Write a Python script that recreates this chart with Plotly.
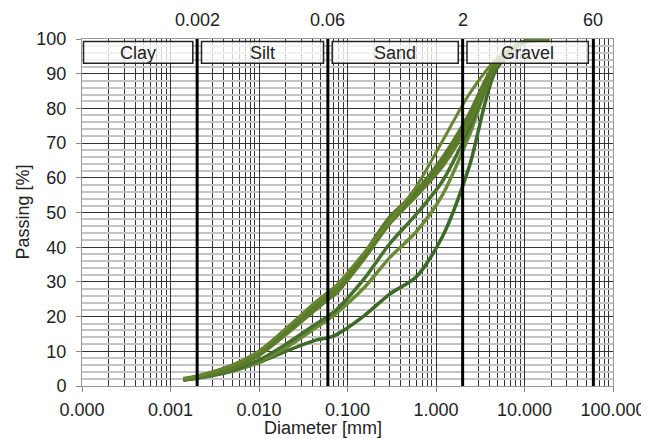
import plotly.graph_objects as go
import math

# ---------------- data ----------------
diam = [0.0014, 0.002, 0.005, 0.01, 0.02, 0.045, 0.063, 0.075, 0.15, 0.3, 0.6, 1.18, 2.36, 4.75, 9.5, 19]
pass_A = [1.8, 2.3, 4.3, 6.8, 10.0, 13.3, 14.0, 14.8, 20.0, 26.5, 31.5, 43.0, 63.0, 91.0, 99.0, 100]
pass_F = [1.8, 2.3, 4.3, 7.0, 11.0, 17.0, 19.5, 21.0, 28.0, 37.0, 44.5, 55.0, 72.0, 92.0, 99.0, 100]
pass_E = [1.8, 2.3, 4.5, 7.5, 12.0, 18.0, 20.5, 22.0, 30.5, 41.0, 49.5, 59.0, 74.0, 92.0, 99.0, 100]
pass_D = [1.8, 2.5, 5.2, 9.0, 15.0, 22.5, 25.5, 27.0, 36.5, 47.0, 55.0, 63.5, 76.0, 92.5, 99.0, 100]
pass_C = [2.0, 2.7, 5.8, 9.8, 16.0, 24.0, 27.0, 28.5, 37.5, 48.5, 56.0, 65.5, 78.0, 93.0, 99.0, 100]
pass_B = [2.0, 2.8, 6.0, 10.0, 16.5, 24.5, 27.5, 29.0, 38.0, 47.5, 57.5, 70.5, 84.0, 94.0, 99.0, 100]

series_values = [pass_A, pass_F, pass_E, pass_D, pass_C, pass_B]
series_colors = ["#3e6a29", "#6a8a36", "#46702b", "#5d7c2c", "#5a7a2a", "#65862f"]
series_widths = [3.5, 3.5, 3.5, 4.5, 4.5, 3]

x_tick_vals = [0.0001, 0.001, 0.01, 0.1, 1, 10, 100]
x_tick_text = ["0.000", "0.001", "0.010", "0.100", "1.000", "10.000", "100.000"]

class_bounds = [0.002, 0.06, 2, 60]
class_bound_labels = ["0.002", "0.06", "2", "60"]
class_names = ["Clay", "Silt", "Sand", "Gravel"]
class_lo = [0.0001, 0.002, 0.06, 2]
class_hi = [0.002, 0.06, 2, 60]

FONT = "Liberation Sans, Arial, sans-serif"
FS = 18

fig = go.Figure()
for vals, col, w in zip(series_values, series_colors, series_widths):
    fig.add_trace(go.Scatter(x=diam, y=vals, mode="lines",
                             line=dict(color=col, width=w, shape="spline", smoothing=0.8),
                             showlegend=False, hoverinfo="skip"))

shapes = []
annotations = []
for b, lab in zip(class_bounds, class_bound_labels):
    shapes.append(dict(type="line", xref="x", yref="paper", x0=b, x1=b, y0=0, y1=1,
                       line=dict(color="black", width=3), layer="above"))
    annotations.append(dict(x=math.log10(b), xref="x", y=1.0, yref="paper", text=lab,
                            showarrow=False, yanchor="bottom", yshift=7,
                            font=dict(family=FONT, size=FS, color="#222")))

for name, lo, hi in zip(class_names, class_lo, class_hi):
    x0 = lo * (1.04 if lo < 0.001 else 1.12)
    x1 = hi / (1.14 if hi > 10 else 1.12)
    shapes.append(dict(type="rect", xref="x", yref="y", x0=x0, x1=x1, y0=93, y1=99.3,
                       line=dict(color="#222", width=1.5), fillcolor="rgba(255,255,255,0.78)",
                       layer="above"))
    annotations.append(dict(x=(math.log10(x0) + math.log10(x1)) / 2, xref="x", y=96.1, yref="y",
                            text=name, showarrow=False,
                            font=dict(family=FONT, size=FS, color="#222")))

# axis titles
annotations.append(dict(text="Diameter [mm]", xref="paper", yref="paper", x=0.454, y=0,
                        yanchor="top", yshift=-30, showarrow=False,
                        font=dict(family=FONT, size=18, color="#222")))
annotations.append(dict(text="Passing [%]", xref="paper", yref="paper", x=0, y=0.5,
                        xanchor="center", xshift=-60, textangle=-90, showarrow=False,
                        font=dict(family=FONT, size=18, color="#222")))

# page body has an 8px margin: compensate so the plot lands where the reference has it
fig.update_layout(
    width=641, height=431,
    margin=dict(l=74, r=36, t=31, b=53),
    paper_bgcolor="white", plot_bgcolor="white",
    font=dict(family=FONT, size=FS, color="#222"),
    shapes=shapes, annotations=annotations,
)
fig.update_xaxes(
    type="log", range=[-4, 2], automargin=False,
    tickvals=x_tick_vals, ticktext=x_tick_text,
    showgrid=True, gridcolor="#333333", gridwidth=1,
    minor=dict(dtick="D1", showgrid=True, gridcolor="#333333", gridwidth=1, ticks=""),
    ticks="outside", ticklen=5, tickcolor="#888",
    showline=True, linecolor="#999", linewidth=1, mirror=True,
    tickfont=dict(size=FS), zeroline=False, ticklabelstandoff=2,
    ticklabeloverflow="allow",
)
fig.update_yaxes(
    range=[0, 100], dtick=10, automargin=False,
    showgrid=True, gridcolor="#333333", gridwidth=1,
    minor=dict(dtick=2, showgrid=True, gridcolor="#c4c4c4", gridwidth=1.5, ticks=""),
    ticks="outside", ticklen=5, tickcolor="#888",
    showline=True, linecolor="#999", linewidth=1, mirror=True,
    tickfont=dict(size=FS), zeroline=False, ticklabelstandoff=6,
)

fig.write_html("out.html")
